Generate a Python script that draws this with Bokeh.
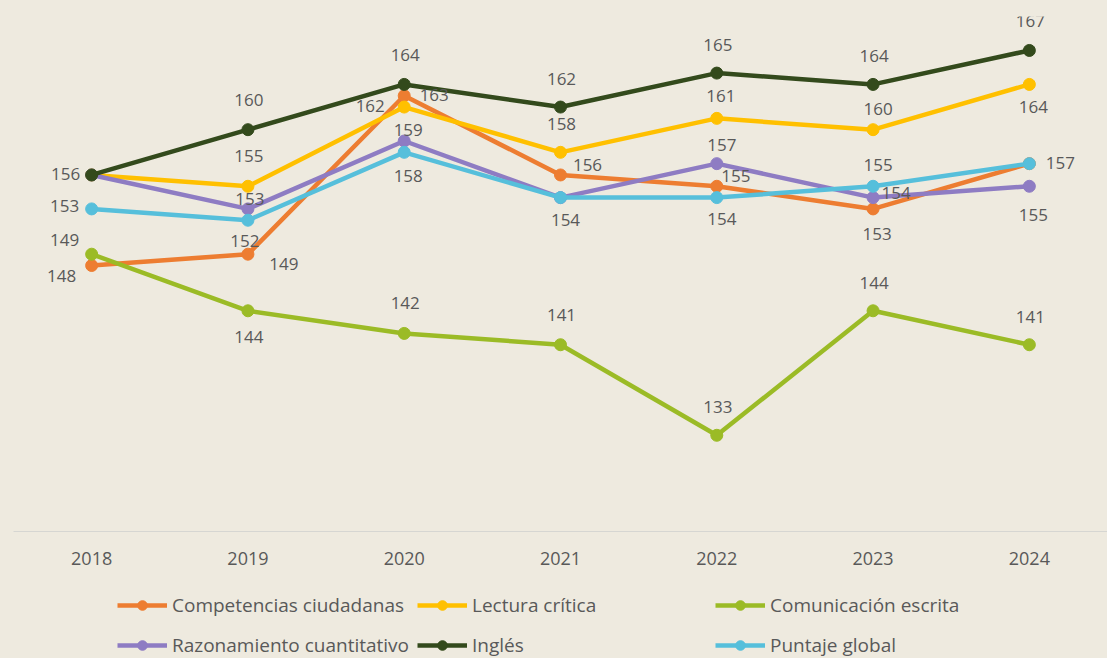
from bokeh.plotting import figure
from bokeh.layouts import column
from bokeh.models import ColumnDataSource, LabelSet, Legend, LegendItem, Range1d, FixedTicker
from bokeh.embed import file_html
from bokeh.resources import INLINE
from bokeh.core.properties import value

# ---------------- data ----------------
years = [2018, 2019, 2020, 2021, 2022, 2023, 2024]
competencias = [148, 149, 163, 156, 155, 153, 157]
lectura = [156, 155, 162, 158, 161, 160, 164]
comunicacion = [149, 144, 142, 141, 133, 144, 141]
razonamiento = [156, 153, 159, 154, 157, 154, 155]
ingles = [156, 160, 164, 162, 165, 164, 167]
puntaje = [153, 152, 158, 154, 154, 155, 157]

names = ["Competencias ciudadanas", "Lectura crítica", "Comunicación escrita",
         "Razonamiento cuantitativo", "Inglés", "Puntaje global"]
values_by_series = [competencias, lectura, comunicacion, razonamiento, ingles, puntaje]

# ---------------- style ----------------
colors = ["#ED7D31", "#FFC000", "#9BBB26", "#8E7CC3", "#334A1C", "#56BFDB"]
BG = "#EEEADF"
TXT = "#595959"
FONT = "Open Sans"

# label offsets (dx right, dy up) in screen px; None = label not drawn (shared with another)
label_offsets = [
    [(-30, -10), (36, -10), (30, 1), (27, 10), (19, 10), (4, -25), (31, 1)],
    [None, (1, 30), (-34, 1), (1, 28), (4, 22), (5, 21), (4, -23)],
    [(-27, 14), (1, -26), (1, 30), (1, 30), (1, 28), (1, 28), (1, 28)],
    [None, (2, 10), (4, 11), None, (5, 19), (23, 5), (4, -29)],
    [(-26, 1), (1, 30), (1, 29), (1, 28), (1, 28), (1, 28), (1, 29)],
    [(-27, 3), (-3, -21), (4, -24), (5, -22), (5, -21), (5, 21), None],
]

W = 1107
p = figure(width=W, height=580,
           x_range=Range1d(2017.5, 2024.5), y_range=Range1d(124.5, 170.0),
           output_backend="svg", toolbar_location=None, y_axis_location=None,
           min_border_left=13, min_border_right=0, min_border_top=16, min_border_bottom=49,
           background_fill_color=BG, border_fill_color=BG, outline_line_color=None)
p.grid.visible = False

ax = p.xaxis[0]
ax.ticker = FixedTicker(ticks=years)
ax.major_tick_line_color = None
ax.minor_tick_line_color = None
ax.axis_line_color = "#D6D6D2"
ax.axis_line_width = 1
ax.major_label_text_font = FONT
ax.major_label_text_font_size = "18px"
ax.major_label_text_color = TXT
ax.major_label_standoff = 14

for vals, col in zip(values_by_series, colors):
    src = ColumnDataSource(dict(x=years, y=vals))
    p.line("x", "y", source=src, line_width=4.5, line_color=col)
    p.scatter("x", "y", source=src, size=12, fill_color=col, line_color=col)

# data labels
for vals, offs in zip(values_by_series, label_offsets):
    xs, ys, txt, dxs, dys = [], [], [], [], []
    for yr, v, o in zip(years, vals, offs):
        if o is None:
            continue
        xs.append(yr); ys.append(v); txt.append(str(v)); dxs.append(o[0]); dys.append(o[1])
    lsrc = ColumnDataSource(dict(x=xs, y=ys, t=txt, dx=dxs, dy=dys))
    p.add_layout(LabelSet(x="x", y="y", text="t", source=lsrc, x_offset="dx", y_offset="dy",
                          text_align="center", text_baseline="middle",
                          text_font=value(FONT), text_font_size="17px", text_color=TXT))

# legend strip below the chart (same series, drawn outside its visible range)
pl = figure(width=W, height=78, x_range=Range1d(0, 1), y_range=Range1d(0, 1),
            output_backend="svg", toolbar_location=None,
            x_axis_location=None, y_axis_location=None,
            min_border_left=13, min_border_right=0, min_border_top=0, min_border_bottom=0,
            background_fill_color=BG, border_fill_color=BG, outline_line_color=None)
pl.grid.visible = False

leg_renderers = []
for vals, col in zip(values_by_series, colors):
    src = ColumnDataSource(dict(x=years, y=vals))
    ln = pl.line("x", "y", source=src, line_width=4.5, line_color=col)
    sc = pl.scatter("x", "y", source=src, size=12, fill_color=col, line_color=col)
    leg_renderers.append([ln, sc])

for a, b, xloc in [(0, 3, 104), (1, 4, 404), (2, 5, 702)]:
    leg = Legend(items=[LegendItem(label=names[a], renderers=leg_renderers[a]),
                        LegendItem(label=names[b], renderers=leg_renderers[b])],
                 location=(xloc, 0), orientation="vertical",
                 glyph_width=50, glyph_height=24, label_height=24, spacing=14,
                 label_standoff=5, padding=0, margin=0,
                 border_line_color=None, background_fill_alpha=0,
                 label_text_font=FONT, label_text_font_size="19px", label_text_color=TXT)
    pl.add_layout(leg, "center")

layout = column(p, pl, spacing=0, styles={"background-color": BG})
open("out.html", "w").write(file_html(layout, INLINE))
